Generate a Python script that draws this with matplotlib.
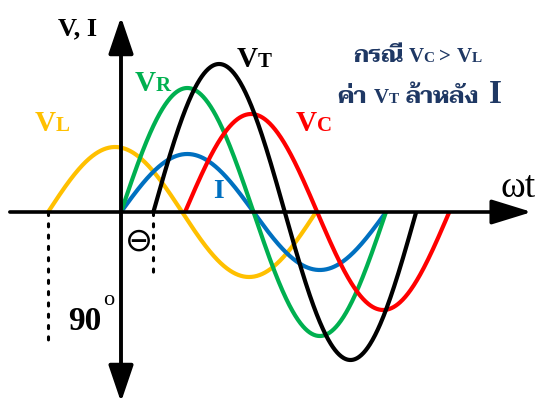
import numpy as np
import matplotlib
matplotlib.use("Agg")
import matplotlib.pyplot as plt
from matplotlib.transforms import Affine2D

# one full cycle of each wave, in degrees of wt (0 = vertical axis)
wave_names = ["VL", "I", "VR", "VC", "VT"]
wave_colors = ["#FFC000", "#0070C0", "#00B050", "#FF0000", "black"]
wave_amps = [65, 58, 124, 98, 148]
wave_starts = [-99, 0, 0, 87, 44]
wave_ends = [265, 360, 360, 446, 401]

# dotted drop lines under the start of VL (90 deg) and VT (theta)
drop_waves = ["VL", "VT"]
drop_depths = [-133, -66]

W, H = 552, 405
ORIGIN_X, ORIGIN_Y = 121, 212      # where the axes cross, in pixels
PX_PER_DEG = 265 / 360

SERIF = ["Liberation Serif", "Taviraj"]
NAVY = "#1F3864"

fig = plt.figure(figsize=(W / 100, H / 100), dpi=100)
ax = fig.add_axes([0, 0, 1, 1])
ax.set_xlim(-ORIGIN_X / PX_PER_DEG, (W - ORIGIN_X) / PX_PER_DEG)
ax.set_ylim(ORIGIN_Y - H, ORIGIN_Y)
ax.axis("off")

# axes with arrow heads
ax.annotate("", xy=(558, 0), xytext=(-151, 0),
            arrowprops=dict(arrowstyle="-|>,head_length=0.55,head_width=0.17",
                            mutation_scale=45, lw=2.6, color="black",
                            shrinkA=0, shrinkB=0))
ax.annotate("", xy=(0, 195), xytext=(0, -190),
            arrowprops=dict(arrowstyle="<|-|>,head_length=0.5,head_width=0.17",
                            mutation_scale=45, lw=2.8, color="black",
                            shrinkA=0, shrinkB=0))

# dotted lines
for name, depth in zip(drop_waves, drop_depths):
    x0 = wave_starts[wave_names.index(name)]
    ax.plot([x0, x0], [0, depth], color="black", lw=2.2,
            linestyle=(0, (1, 2.7)), dash_capstyle="round")

# the waves
for c, a, s, e in zip(wave_colors, wave_amps, wave_starts, wave_ends):
    t = np.linspace(s, e, 500)
    y = a * np.sin(np.radians((t - s) * 360 / (e - s)))
    ax.plot(t, y, color=c, lw=3, solid_capstyle="butt")

# text, placed in pixels from the top-left corner
pix = Affine2D().scale(1, -1).translate(0, H)
renderer = fig.canvas.get_renderer()


def label(x, y, pieces, color, weight="bold", family=SERIF):
    # pieces: (text, size, gap after in px)
    for s, size, gap in pieces:
        t = fig.text(x, y, s, transform=pix, fontsize=size, family=family,
                     weight=weight, color=color, va="baseline", ha="left")
        x += t.get_window_extent(renderer).width + gap


label(58, 35, [("V, I", 19, 0)], "black")
label(237, 67, [("V", 21, 0), ("T", 15, 0)], "black")
label(135, 91, [("V", 21, 0), ("R", 15, 0)], wave_colors[2])
label(35, 131, [("V", 21, 0), ("L", 15, 0)], wave_colors[0])
label(296, 131, [("V", 21, 0), ("C", 15, 0)], wave_colors[3])
label(213, 198, [("I", 20, 0)], wave_colors[1])
label(500, 197, [("ωt", 27, 0)], "black", weight="normal")
label(68, 330, [("90", 24, 0)], "black")
label(103, 305, [("o", 16, 0)], "black", weight="normal")
label(125, 251, [("⊖", 24, 0)], "black", weight="normal",
      family=["DejaVu Sans"])

label(353, 62, [("กรณี", 17, 5), ("V", 15, 0), ("C", 11, 5), (">", 15, 5),
                ("V", 15, 0), ("L", 11, 0)], NAVY)
label(337, 103, [("ค่า", 17, 7), ("V", 15, 0), ("T", 11, 7),
                 ("ล้าหลัง", 17, 10), ("I", 24, 0)], NAVY)

fig.savefig("out.png", dpi=100)
